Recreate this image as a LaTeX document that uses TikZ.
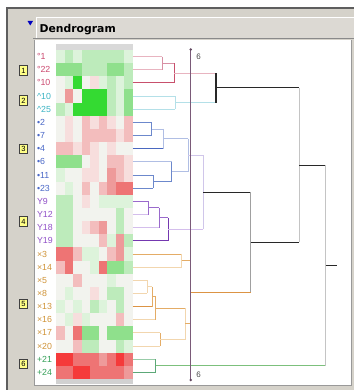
\documentclass[tikz,border=0pt]{standalone}
\usepackage{fontspec}
\setmainfont{Liberation Sans}
\newfontfamily\titlefont{DejaVu Sans}
\definecolor{panel}{HTML}{D5D2CA}
\definecolor{titlebg}{HTML}{DCD9D3}
\definecolor{frame}{HTML}{5E5E5E}
\definecolor{sepline}{HTML}{8A8A8A}
\definecolor{wW}{HTML}{F2F3EE}
\definecolor{gA}{HTML}{DDF3DB}
\definecolor{gB}{HTML}{BDEBBB}
\definecolor{gC}{HTML}{8FE08C}
\definecolor{gD}{HTML}{34DA32}
\definecolor{rA}{HTML}{F7DEDD}
\definecolor{rB}{HTML}{F3BDBD}
\definecolor{rC}{HTML}{EE9A9A}
\definecolor{rD}{HTML}{EE7474}
\definecolor{rE}{HTML}{F53A3A}
\definecolor{pinkL}{HTML}{E8B4C0}
\definecolor{pinkM}{HTML}{D890A4}
\definecolor{pinkD}{HTML}{C8506C}
\definecolor{cyanL}{HTML}{B4E0E8}
\definecolor{blueL}{HTML}{B0BEE4}
\definecolor{blueM}{HTML}{6C88CC}
\definecolor{blueD}{HTML}{4A68C0}
\definecolor{lavL}{HTML}{D0C6EA}
\definecolor{purL}{HTML}{D4BEEC}
\definecolor{purM}{HTML}{9A6ACC}
\definecolor{purD}{HTML}{7438B0}
\definecolor{oraL}{HTML}{F2D6AE}
\definecolor{oraM}{HTML}{E4AC66}
\definecolor{oraD}{HTML}{DC9444}
\definecolor{grnL}{HTML}{98CCA8}
\definecolor{grnD}{HTML}{5CA878}
\definecolor{grnM}{HTML}{7CC07C}
\definecolor{dkline}{HTML}{282828}
\definecolor{grayV}{HTML}{A0A0A0}
\definecolor{lgrayV}{HTML}{C4C4C4}
\definecolor{cutc}{HTML}{7A5A78}
\definecolor{labPink}{HTML}{CC4A70}
\definecolor{labCyan}{HTML}{3CB4C4}
\definecolor{labBlue}{HTML}{4A68C8}
\definecolor{labPur}{HTML}{9050C8}
\definecolor{labOra}{HTML}{D09438}
\definecolor{labGrn}{HTML}{34A058}
\definecolor{boxfill}{HTML}{FFFF88}
\newcommand\hseg[3]{\draw[#1] (#2) -- (#2 -| #3);}
\newcommand\vseg[4]{\draw[#1] (#2 -| #4) -- (#3 -| #4);}
\begin{document}
\begin{tikzpicture}[x=1pt,y=-1pt,
  seg/.style={line width=0.9pt},
  dk/.style={line width=1.3pt, draw=dkline},
  lab/.style={anchor=west, inner sep=0pt, font=\fontsize{8.8}{9}\selectfont},
  gbox/.style={draw=black!75, fill=boxfill, line width=0.6pt, inner sep=0pt, minimum width=8pt, minimum height=9.5pt, font=\fontsize{7.5}{8}\selectfont},
  sixlab/.style={inner sep=0pt, text=black!70, font=\fontsize{8}{8}\selectfont}]
\useasboundingbox (0,0) rectangle (354,390);
% backgrounds
\fill[white] (0,0) rectangle (354,390);
\fill[panel] (7,8) rectangle (354,390);
\fill[titlebg] (36,17) rectangle (354,38);
\draw[white, line width=0.8pt] (36,38) -- (36,17) -- (354,17);
\draw[sepline, line width=1.2pt] (33,38.6) -- (354,38.6);
\fill[white] (35,40) rectangle (351,385);
\draw[black!40, line width=0.8pt] (34.4,40) -- (34.4,385.5) -- (351,385.5) -- (351,40);
\draw[frame, line width=1.2pt] (7,390) -- (7,8) -- (354,8);
\fill[blue!75!black] (27.5,21) -- (33,21) -- (30.25,25.5) -- cycle;
\node[anchor=base west, inner sep=0pt, font=\titlefont\bfseries\fontsize{10.8}{11}\selectfont] (title) at (39.5,33) {Dendrogram};
% heatmap strips
\fill[black!15] (56,44) rectangle (133,50);
\fill[black!18] (56,379) rectangle (133,384);
% heatmap
\foreach \row [count=\i] in {
 {gA,gB,gA,gB,gB,gB,gB,gB,gA},
 {gC,gC,gC,gB,gB,gB,gC,gC,gB},
 {wW,gA,gD,wW,rA,gA,gB,gA,gB},
 {wW,rC,wW,gD,gD,gD,gB,gA,gC},
 {gB,gA,gD,gD,gD,gD,gB,gA,gC},
 {wW,rA,wW,rB,rA,rB,rA,wW,rB},
 {wW,rA,wW,rB,rB,rB,rB,rA,rB},
 {rB,rB,rA,rB,rA,wW,rA,wW,wW},
 {gC,gC,gC,wW,rA,wW,rB,rB,rA},
 {gA,wW,wW,rA,rA,wW,rC,rB,rA},
 {wW,gA,wW,rB,wW,rB,rC,rD,rD},
 {gB,gB,wW,rA,wW,gA,gA,gA,gA},
 {gB,gB,wW,wW,wW,wW,wW,gB,wW},
 {gB,gB,wW,rA,rB,rC,wW,gB,wW},
 {gB,gB,wW,wW,wW,rB,gA,rC,gB},
 {rD,rD,rB,gA,gA,wW,rB,rC,gA},
 {rB,rD,wW,wW,gA,rD,gC,gC,gB},
 {wW,wW,rB,wW,wW,wW,gA,wW,wW},
 {wW,gA,wW,wW,rA,wW,gB,gB,wW},
 {gA,wW,gA,wW,gB,gA,wW,gB,wW},
 {wW,gA,rA,gA,wW,wW,wW,rB,wW},
 {rB,wW,rD,gC,gC,wW,gC,gC,gC},
 {wW,wW,rB,gB,gB,wW,wW,gB,gA},
 {rE,rE,rD,rD,rD,rC,rD,rE,rD},
 {rD,rD,rE,rE,rD,rD,rD,rD,rC}} {
  \foreach \cc [count=\j] in \row {
    \fill[\cc] ({56+8.5556*(\j-1)},{50+13.16*(\i-1)}) rectangle ++(8.62,13.22);
  }
}
% leaf labels
\foreach \lbl/\lcol [count=\i] in {°1/labPink,°22/labPink,°10/labPink,
 \textasciicircum10/labCyan,\textasciicircum25/labCyan,
 •2/labBlue,•7/labBlue,•4/labBlue,•6/labBlue,•11/labBlue,•23/labBlue,
 Y9/labPur,Y12/labPur,Y18/labPur,Y19/labPur,
 ×3/labOra,×14/labOra,×5/labOra,×8/labOra,×13/labOra,×16/labOra,×17/labOra,×20/labOra,
 +21/labGrn,+24/labGrn} {
  \node[lab, text=\lcol] (lab\i) at (36.8,{43.42+13.16*\i}) {\lbl};
  \coordinate (L\i) at (132.5,{43.42+13.16*\i});
}
% group boxes
\node[gbox] (grp1) at (23.5,70.5) {1};
\node[gbox] (grp2) at (23.5,100.5) {2};
\node[gbox] (grp3) at (23.5,149) {3};
\node[gbox] (grp4) at (23.5,221.5) {4};
\node[gbox] (grp5) at (23.5,304) {5};
\node[gbox] (grp6) at (23.5,364) {6};
% dendrogram joints
\coordinate (P1) at (162,63.16);
\coordinate (P2) at (174.3,73.03);
\coordinate (C1) at (175,102.64);
\coordinate (K1) at (216,87.835);
\coordinate (B1) at (151.7,128.96);
\coordinate (B2) at (163.3,138.83);
\coordinate (B3) at (153.3,181.6);
\coordinate (B4) at (171.7,171.73);
\coordinate (B5) at (188.3,155.28);
\coordinate (U1) at (148.3,207.92);
\coordinate (U2) at (159.3,217.79);
\coordinate (U3) at (168.3,229.305);
\coordinate (K2) at (203.3,192.29);
\coordinate (O1) at (181.7,260.56);
\coordinate (O2) at (147.3,286.88);
\coordinate (O3) at (152,296.75);
\coordinate (O4) at (155.7,308.265);
\coordinate (O5) at (160,339.52);
\coordinate (O6) at (185,323.89);
\coordinate (O7) at (190,292.225);
\coordinate (K3) at (250.7,242.26);
\coordinate (K4) at (299,165.05);
\coordinate (G1) at (155.7,365.84);
\coordinate (R) at (325.7,265.44);
\coordinate (Rend) at (336.7,265.44);
% pink
\hseg{seg,pinkL}{L1}{P1} \hseg{seg,pinkL}{L2}{P1} \vseg{seg,pinkM}{L1}{L2}{P1}
\hseg{seg,pinkM}{P1}{P2} \hseg{seg,pinkD}{L3}{P2} \vseg{seg,pinkD}{P1}{L3}{P2}
\hseg{seg,pinkL}{P2}{K1}
% cyan
\hseg{seg,cyanL}{L4}{C1} \hseg{seg,cyanL}{L5}{C1} \vseg{seg,cyanL}{L4}{L5}{C1}
\hseg{seg,cyanL}{C1}{K1}
% blue
\hseg{seg,blueM}{L6}{B1} \hseg{seg,blueM}{L7}{B1} \vseg{seg,blueM}{L6}{L7}{B1}
\hseg{seg,blueL}{B1}{B2} \hseg{seg,blueD}{L8}{B2} \vseg{seg,blueL}{B1}{L8}{B2}
\hseg{seg,blueL}{B2}{B5}
\hseg{seg,blueM}{L10}{B3} \hseg{seg,blueM}{L11}{B3} \vseg{seg,blueM}{L10}{L11}{B3}
\hseg{seg,blueL}{L9}{B4} \hseg{seg,blueM}{B3}{B4} \vseg{seg,blueM}{L9}{B3}{B4}
\hseg{seg,blueL}{B4}{B5} \vseg{seg,blueL}{B2}{B4}{B5}
\hseg{seg,lavL}{B5}{K2}
% purple
\hseg{seg,purM}{L12}{U1} \hseg{seg,purL}{L13}{U1} \vseg{seg,purM}{L12}{L13}{U1}
\hseg{seg,purM}{U1}{U2} \hseg{seg,purL}{L14}{U2} \vseg{seg,purM}{U1}{L14}{U2}
\hseg{seg,purM}{U2}{U3} \hseg{seg,purD}{L15}{U3} \vseg{seg,purD}{U2}{L15}{U3}
\hseg{seg,purL}{U3}{K2}
\vseg{seg,lavL}{B5}{U3}{K2}
% orange
\hseg{seg,oraM}{L16}{O1} \hseg{seg,oraL}{L17}{O1} \vseg{seg,oraL}{L16}{L17}{O1}
\hseg{seg,oraM}{O1}{O7}
\hseg{seg,oraL}{L18}{O2} \hseg{seg,oraL}{L19}{O2} \vseg{seg,oraL}{L18}{L19}{O2}
\hseg{seg,oraL}{O2}{O3} \hseg{seg,oraD}{L20}{O3} \vseg{seg,oraM}{O2}{L20}{O3}
\hseg{seg,oraM}{O3}{O4} \hseg{seg,oraL}{L21}{O4} \vseg{seg,oraM}{O3}{L21}{O4}
\hseg{seg,oraM}{O4}{O6}
\hseg{seg,oraL}{L22}{O5} \hseg{seg,oraL}{L23}{O5} \vseg{seg,oraM}{L22}{L23}{O5}
\hseg{seg,oraL}{O5}{O6} \vseg{seg,oraL}{O4}{O5}{O6}
\hseg{seg,oraM}{O6}{O7} \vseg{seg,oraM}{O1}{O6}{O7}
\hseg{seg,oraD}{O7}{K3}
% green
\hseg{seg,grnL}{L24}{G1} \hseg{seg,grnD}{L25}{G1} \vseg{seg,grnD}{L24}{L25}{G1}
\hseg{seg,grnM}{G1}{R}
% upper levels
\vseg{dk}{P2}{C1}{K1}
\hseg{dk}{K1}{K4}
\hseg{dk}{K2}{K3}
\vseg{seg,grayV}{K2}{O7}{K3}
\hseg{dk}{K3}{K4}
\vseg{seg,lgrayV}{K1}{K3}{K4}
\hseg{seg,draw=dkline}{K4}{R}
\vseg{seg,lgrayV}{K4}{G1}{R}
\draw[seg,dkline] (R) -- (Rend);
% cut line
\coordinate (cutT) at (190.8,49.5);
\coordinate (cutB) at (190.8,380);
\draw[cutc, line width=1.1pt] (cutT) -- (cutB);
\fill[cutc!80!black] (cutT) circle (1.4pt);
\fill[cutc!80!black] (cutB) circle (1.4pt);
\node[sixlab] (sixT) at (198.5,56.5) {6};
\node[sixlab] (sixB) at (198.5,375) {6};
\end{tikzpicture}
\end{document}
